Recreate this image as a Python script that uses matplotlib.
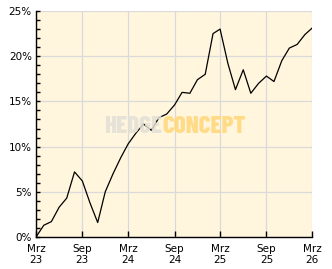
import matplotlib
matplotlib.use("Agg")
import matplotlib.pyplot as plt
import pandas as pd
from matplotlib.ticker import MultipleLocator

# Data (monthly performance in %)
start_date = "2023-03-01"
n_months = 37
values = [0.0, 1.3, 1.7, 3.3, 4.3, 7.2, 6.2, 3.8, 1.6, 5.0,
          7.0, 8.8, 10.3, 11.5, 12.5, 11.8, 13.2, 13.6, 14.6, 16.0,
          15.9, 17.4, 18.0, 22.5, 23.0, 19.2, 16.3, 18.5, 15.9, 17.0,
          17.8, 17.2, 19.5, 20.9, 21.3, 22.4, 23.1]
tick_dates = ["2023-03-01", "2023-09-01", "2024-03-01", "2024-09-01",
              "2025-03-01", "2025-09-01", "2026-03-01"]
tick_labels = ["Mrz\n23", "Sep\n23", "Mrz\n24", "Sep\n24",
               "Mrz\n25", "Sep\n25", "Mrz\n26"]
y_ticks = [0, 5, 10, 15, 20, 25]

dates = pd.date_range(start_date, periods=n_months, freq="MS")

W, H = 332, 269
fig = plt.figure(figsize=(W / 100, H / 100), dpi=100)
fig.patch.set_facecolor("white")
ax = fig.add_axes([36 / W, 32 / H, 276 / W, 226 / H])
ax.set_facecolor("#FFF6DD")

ax.plot(dates, values, color="black", linewidth=0.9, zorder=3)

ax.set_xlim(pd.Timestamp(tick_dates[0]), pd.Timestamp(tick_dates[-1]))
ax.set_ylim(0, 25)

ax.set_xticks([pd.Timestamp(d) for d in tick_dates])
ax.set_xticklabels(tick_labels, linespacing=1.15)
ax.set_yticks(y_ticks)
ax.set_yticklabels([f"{v}%" for v in y_ticks])
ax.yaxis.set_minor_locator(MultipleLocator(1))

ax.grid(True, which="major", color="#DADADA", linewidth=0.9, zorder=1)
ax.set_axisbelow(True)

for s in ["top", "right"]:
    ax.spines[s].set_visible(False)
for s in ["left", "bottom"]:
    ax.spines[s].set_color("black")
    ax.spines[s].set_linewidth(1.0)

ax.tick_params(axis="x", which="major", direction="in", length=4.5, width=1,
               labelsize=7.5, pad=5)
ax.tick_params(axis="y", which="major", direction="in", length=3, width=1,
               labelsize=7.5, pad=3)
ax.tick_params(axis="y", which="minor", direction="in", length=3, width=1)

# Watermark
wm_x = (162 - 36) / 276
wm_y = (237 - 133) / 226
ax.text(wm_x, wm_y, "HEDGE", transform=ax.transAxes, ha="right", va="baseline",
        fontsize=18, fontweight=800, color="#E3DFD6", alpha=0.85,
        family=["Barlow Condensed", "DejaVu Sans"], zorder=4)
ax.text(wm_x, wm_y, "CONCEPT", transform=ax.transAxes, ha="left", va="baseline",
        fontsize=18, fontweight=800, color="#FFD77E", alpha=0.9,
        family=["Barlow Condensed", "DejaVu Sans"], zorder=4)

fig.savefig("out.png", dpi=100, facecolor="white")
